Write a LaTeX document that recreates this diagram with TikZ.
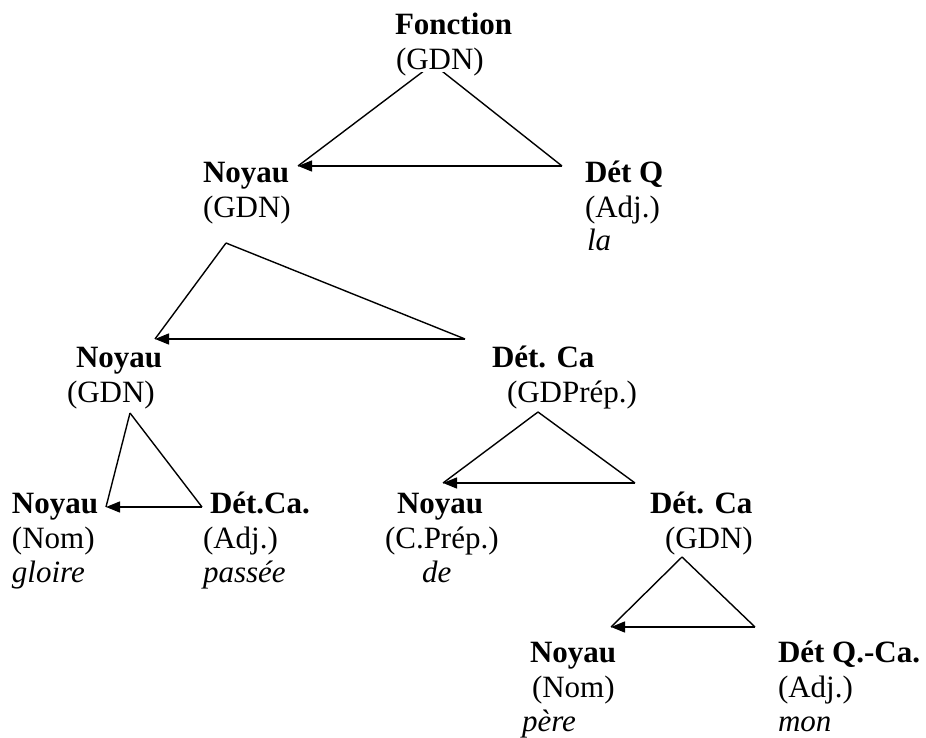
\documentclass[tikz,border=0pt]{standalone}
\usepackage{fontspec}
\setmainfont{Liberation Serif}
\usetikzlibrary{arrows.meta}
\begin{document}
\begin{tikzpicture}[x=1pt,y=-1pt,
  txt/.style={anchor=base west, inner sep=0pt, outer sep=0pt},
  head/.style={txt, font=\fontsize{31}{35}\selectfont\bfseries},
  cat/.style={txt, font=\fontsize{31}{35}\selectfont},
  word/.style={txt, font=\fontsize{31}{35}\selectfont\itshape},
  edge/.style={line width=1.4pt, line join=miter},
  dep/.style={edge, -{Triangle[length=14pt,width=11pt]}}]
\useasboundingbox (0,0) rectangle (926,738);

% ---- triangle vertices: apex, head end, dependent end ----
\coordinate (t1a) at (433,64);  \coordinate (t1l) at (298,166); \coordinate (t1r) at (562,166);
\coordinate (t2a) at (226,243); \coordinate (t2l) at (155,339); \coordinate (t2r) at (465,339);
\coordinate (t3a) at (130,413); \coordinate (t3l) at (106,507); \coordinate (t3r) at (202,507);
\coordinate (t4a) at (538,412); \coordinate (t4l) at (443,483); \coordinate (t4r) at (635,483);
\coordinate (t5a) at (682,557); \coordinate (t5l) at (611,627); \coordinate (t5r) at (755,627);

% ---- triangles ----
\foreach \t in {t1,t2,t3,t4,t5} {
  \draw[edge] (\t a) -- (\t l);
  \draw[edge] (\t a) -- (\t r);
  \draw[dep]  (\t r) -- (\t l);
}

% ---- labels ----
\node[head] (f0)  at (395,35)  {Fonction};
\node[cat, fill=white, text depth=2pt] (f0c) at (396,70) {(GDN)};

\node[head] (n1)  at (203,183) {Noyau};
\node[cat]  (n1c) at (203,218) {(GDN)};
\node[head] (d1)  at (585,183) {Dét Q};
\node[cat]  (d1c) at (585,218) {(Adj.)};
\node[word] (d1w) at (587,250) {la};

\node[head] (n2)  at (76,367)  {Noyau};
\node[cat]  (n2c) at (67,402)  {(GDN)};
\node[head] (d2)  at (492,367) {Dét. Ca};
\node[cat]  (d2c) at (507,402) {(GDPrép.)};

\node[head] (n3)  at (12,513)  {Noyau};
\node[cat]  (n3c) at (12,548)  {(Nom)};
\node[word] (n3w) at (12,582)  {gloire};
\node[head] (d3)  at (210,513) {Dét.Ca.};
\node[cat]  (d3c) at (203,548) {(Adj.)};
\node[word] (d3w) at (203,582) {passée};

\node[head] (n4)  at (397,513) {Noyau};
\node[cat]  (n4c) at (385,548) {(C.Prép.)};
\node[word] (n4w) at (422,582) {de};
\node[head] (d4)  at (650,513) {Dét. Ca};
\node[cat]  (d4c) at (665,548) {(GDN)};

\node[head] (n5)  at (530,662) {Noyau};
\node[cat]  (n5c) at (532,697) {(Nom)};
\node[word] (n5w) at (522,731) {père};
\node[head] (d5)  at (778,662) {Dét Q.-Ca.};
\node[cat]  (d5c) at (778,697) {(Adj.)};
\node[word] (d5w) at (778,731) {mon};
\end{tikzpicture}
\end{document}
